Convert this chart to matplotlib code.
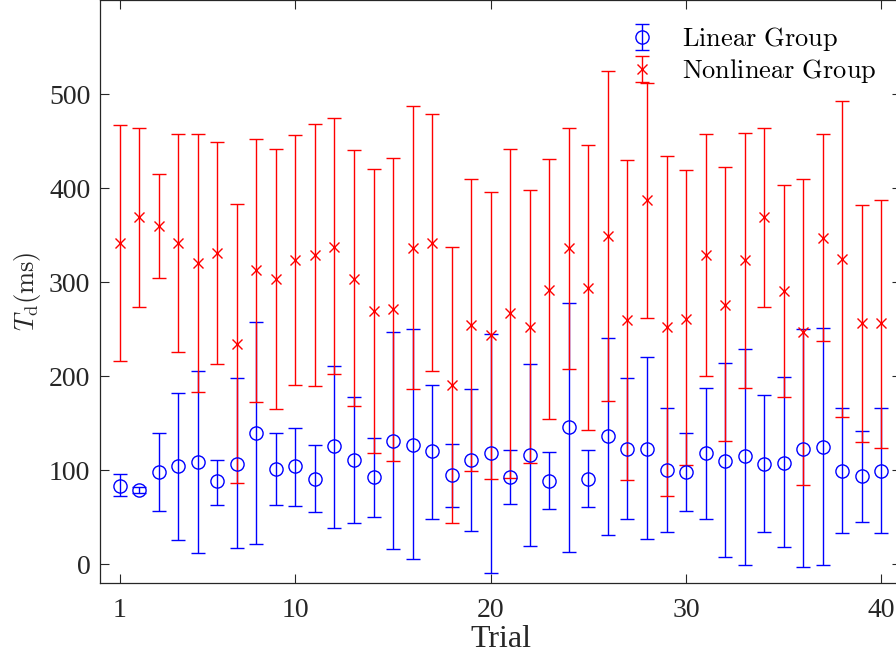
import numpy as np
import matplotlib
matplotlib.use('Agg')
import matplotlib.pyplot as plt

# Data (mean, upper and lower end of the error bar)
trials = np.arange(1, 41)
lin_mean = np.array([83, 79, 98, 104, 109, 88, 107, 140, 101, 104,
                     91, 126, 111, 93, 131, 127, 120, 95, 111, 118,
                     93, 116, 89, 146, 91, 136, 123, 123, 100, 98,
                     118, 110, 115, 107, 108, 123, 125, 99, 94, 99])
lin_upper = np.array([96, 82, 139, 182, 205, 111, 198, 258, 140, 145,
                      127, 211, 178, 134, 247, 250, 191, 128, 186, 245,
                      121, 213, 119, 278, 121, 241, 198, 220, 166, 139,
                      187, 214, 229, 180, 199, 250, 251, 166, 142, 166])
lin_lower = np.array([72, 76, 57, 26, 12, 63, 17, 21, 63, 62,
                      55, 39, 44, 50, 16, 5, 48, 61, 35, -9,
                      64, 19, 59, 13, 61, 31, 48, 27, 34, 57,
                      48, 8, -1, 34, 18, -3, -1, 33, 45, 33])
nl_mean = np.array([342, 369, 360, 342, 320, 331, 234, 313, 303, 324,
                    329, 337, 303, 269, 271, 336, 342, 191, 254, 244,
                    267, 252, 292, 336, 294, 349, 260, 387, 252, 261,
                    329, 276, 323, 369, 291, 247, 347, 325, 256, 256])
nl_upper = np.array([467, 464, 415, 457, 457, 449, 383, 452, 442, 456,
                     468, 475, 440, 420, 432, 487, 479, 337, 410, 396,
                     442, 398, 431, 464, 446, 525, 430, 512, 434, 419,
                     457, 422, 459, 464, 403, 410, 457, 493, 382, 387])
nl_lower = np.array([216, 274, 304, 226, 183, 213, 86, 173, 165, 191,
                     190, 202, 168, 118, 110, 186, 205, 44, 99, 91,
                     92, 108, 154, 208, 143, 174, 90, 262, 72, 105,
                     200, 131, 187, 274, 178, 84, 237, 157, 130, 124])

x_ticks = [1, 10, 20, 30, 40]
y_ticks = [0, 100, 200, 300, 400, 500]

plt.rcParams['font.family'] = 'Liberation Serif'
plt.rcParams['mathtext.fontset'] = 'cm'
AX_COLOR = '#262626'

fig = plt.figure(figsize=(8.96, 6.57), dpi=100)
ax = fig.add_axes([100/896, 74/657, 801/896, 583/657])

ax.errorbar(trials, lin_mean, yerr=[lin_mean - lin_lower, lin_upper - lin_mean],
            fmt='o', color='b', mfc='none', ms=9.5, mew=1.0, elinewidth=1.0,
            capsize=5, capthick=1.0, label=r'$\mathrm{Linear\ Group}$')
ax.errorbar(trials, nl_mean, yerr=[nl_mean - nl_lower, nl_upper - nl_mean],
            fmt='x', color='r', ms=7, mew=1.0, elinewidth=1.0,
            capsize=5, capthick=1.0, label=r'$\mathrm{Nonlinear\ Group}$')

ax.set_xlim(0, 41)
ax.set_ylim(-20, 600)
ax.set_xticks(x_ticks)
ax.set_yticks(y_ticks)
ax.tick_params(direction='in', length=6.5, width=0.8, top=True, right=True,
               labelsize=20, colors=AX_COLOR)
ax.tick_params(axis='x', pad=11)
ax.tick_params(axis='y', pad=7)
for s in ax.spines.values():
    s.set_color(AX_COLOR)
    s.set_linewidth(0.9)

ax.set_xlabel('Trial', fontsize=23, color=AX_COLOR, labelpad=1)
ax.set_ylabel(r'$T_\mathrm{d}(\mathrm{ms})$', fontsize=19, color=AX_COLOR, labelpad=4)

ax.legend(loc='upper right', bbox_to_anchor=(0.9925, 0.988), frameon=False, fontsize=19,
          handlelength=1.0, handletextpad=1.0, labelspacing=0.15, borderaxespad=0.3)

fig.savefig('out.png', dpi=100)
